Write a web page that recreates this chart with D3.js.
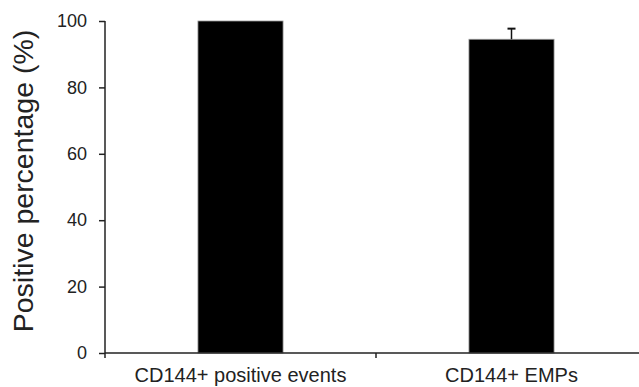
<!DOCTYPE html>
<html>
<head>
<meta charset="utf-8">
<script src="https://cdn.jsdelivr.net/npm/d3@7"></script>
<style>
body { margin:0; background:#fff; }
text { font-family: Arial, "Liberation Sans", sans-serif; fill:#222; }
</style>
</head>
<body>
<div id="plot"></div>
<script>
// data
var categories = ['CD144+ positive events', 'CD144+ EMPs'];
var values = [100, 94.5];
var errors = [0, 3.2];
var yTicks = [0, 20, 40, 60, 80, 100];

var W = 639, H = 387;
var margin = {t:21, r:-8, b:34, l:105};

var svg = d3.select('#plot')
	.append('svg')
	.attr('width', W)
	.attr('height', H);

var x = d3.scaleBand()
	.domain(categories)
	.range([margin.l, W - margin.r])
	.paddingInner(0.686)
	.paddingOuter(0.343);

var y = d3.scaleLinear()
	.domain([0, 100])
	.range([H - margin.b, margin.t]);

var data = categories.map(function(c, i){ return {cat:c, val:values[i], err:errors[i]}; });

//bars
svg.selectAll('rect.bar')
	.data(data)
	.enter()
	.append('rect')
	.attr('class','bar')
	.attr('x', function(d){ return x(d.cat); })
	.attr('y', function(d){ return y(d.val); })
	.attr('width', x.bandwidth())
	.attr('height', function(d){ return y(0) - y(d.val); })
	.style('fill','#000')
	.style('stroke','#999')
	.style('stroke-width',0.8);

//error bars (only where err > 0)
var eb = svg.selectAll('g.err')
	.data(data.filter(function(d){ return d.err > 0; }))
	.enter()
	.append('g')
	.attr('class','err');
eb.append('line')
	.attr('x1', function(d){ return x(d.cat) + x.bandwidth()/2; })
	.attr('x2', function(d){ return x(d.cat) + x.bandwidth()/2; })
	.attr('y1', function(d){ return y(d.val); })
	.attr('y2', function(d){ return y(d.val + d.err); })
	.style('stroke','#111').style('stroke-width',1.5);
eb.append('line')
	.attr('x1', function(d){ return x(d.cat) + x.bandwidth()/2 - 4; })
	.attr('x2', function(d){ return x(d.cat) + x.bandwidth()/2 + 4; })
	.attr('y1', function(d){ return y(d.val + d.err); })
	.attr('y2', function(d){ return y(d.val + d.err); })
	.style('stroke','#111').style('stroke-width',2);

//y axis
var yAxis = svg.append('g')
	.attr('transform','translate(' + margin.l + ',0)')
	.call(d3.axisLeft(y).tickValues(yTicks).tickSize(6).tickSizeOuter(0));
yAxis.select('.domain').remove();
yAxis.append('line')
	.attr('x1',0).attr('x2',0)
	.attr('y1', y(100)).attr('y2', y(0) + 5)
	.style('stroke','#222').style('stroke-width',1.5);
yAxis.selectAll('.tick line').style('stroke','#222').style('stroke-width',1.5);
yAxis.selectAll('.tick text')
	.attr('x', -18)
	.style('font-size','18px')
	.style('fill','#222');

//x axis
var step = x.step();
svg.append('line')
	.attr('x1', margin.l).attr('x2', W)
	.attr('y1', y(0)).attr('y2', y(0))
	.style('stroke','#222').style('stroke-width',1.5);
// separator tick between the two categories
svg.append('line')
	.attr('x1', x(categories[1]) - (step - x.bandwidth())/2)
	.attr('x2', x(categories[1]) - (step - x.bandwidth())/2)
	.attr('y1', y(0)).attr('y2', y(0) + 5)
	.style('stroke','#222').style('stroke-width',1.5);

svg.selectAll('text.xlab')
	.data(categories)
	.enter()
	.append('text')
	.attr('class','xlab')
	.attr('x', function(d){ return x(d) + x.bandwidth()/2; })
	.attr('y', H - 5)
	.attr('text-anchor','middle')
	.style('font-size','20px')
	.text(function(d){ return d; });

//y title
svg.append('text')
	.attr('transform','translate(33,' + ((y(0) + y(100))/2 - 6) + ') rotate(-90)')
	.attr('text-anchor','middle')
	.style('font-size','28.5px')
	.text('Positive percentage (%)');
</script>
</body>
</html>
